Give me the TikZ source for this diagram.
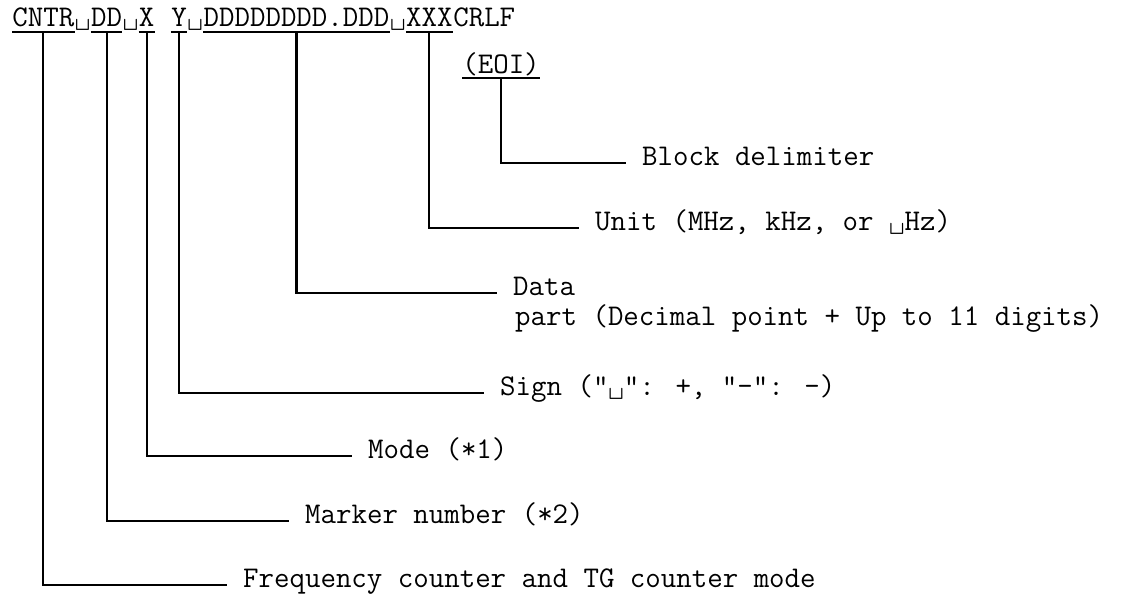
\documentclass[tikz,border=0pt]{standalone}
\usetikzlibrary{positioning}

\begin{document}
\begin{tikzpicture}[
    x=0.02cm, y=-0.02cm,
    font=\ttfamily\fontsize{17.1}{20}\selectfont,
    hdr/.style={inner sep=0pt, text height=.75em, text depth=.25em},
    lbl/.style={anchor=west, inner ysep=0pt, inner xsep=9pt,
                text height=.55em, text depth=.3em},
    uline/.style={line width=1.2pt},
    lead/.style={line width=1.2pt}
  ]
    \useasboundingbox (0,0) rectangle (1143,595);

    % message format
    \node[hdr, anchor=base west] (cntr) at (12,27) {CNTR};
    \node[hdr, right=0pt of cntr] (sp1) {\textvisiblespace};
    \node[hdr, right=0pt of sp1] (dd) {DD};
    \node[hdr, right=0pt of dd] (sp2) {\textvisiblespace};
    \node[hdr, right=0pt of sp2] (xm) {X};
    \node[hdr, right=0pt of xm] (gap) {\phantom{X}};
    \node[hdr, right=0pt of gap] (ys) {Y};
    \node[hdr, right=0pt of ys] (sp3) {\textvisiblespace};
    \node[hdr, right=0pt of sp3] (dval) {DDDDDDDD.DDD};
    \node[hdr, right=0pt of dval] (sp4) {\textvisiblespace};
    \node[hdr, right=0pt of sp4] (unitf) {XXX};
    \node[hdr, right=0pt of unitf] (crlf) {CRLF};
    \node[hdr, anchor=base west] (eoi) at (462,73) {(EOI)};

    % explanations
    \node[lbl] (blk) at (626,163) {Block delimiter};
    \node[lbl] (unit) at (579,228) {Unit (MHz, kHz, or \textvisiblespace Hz)};
    \node[lbl] (data) at (497,293) {Data};
    \node[lbl] (part) at (499,323) {part (Decimal point + Up to 11 digits)};
    \node[lbl] (sign) at (484,393) {Sign ("\textvisiblespace": +, "-": -)};
    \node[lbl] (mode) at (352,456) {Mode (*1)};
    \node[lbl] (mrk) at (289,521) {Marker number (*2)};
    \node[lbl] (freq) at (227,585) {Frequency counter and TG counter mode};

    \foreach \f in {cntr, dd, xm, ys, dval, unitf, eoi}
      \draw[uline] (\f.south west) -- (\f.south east);

    \foreach \f/\l in {eoi/blk, unitf/unit, dval/data, ys/sign, xm/mode, dd/mrk, cntr/freq}
      \draw[lead] (\f.south) |- (\l.west);
\end{tikzpicture}
\end{document}
